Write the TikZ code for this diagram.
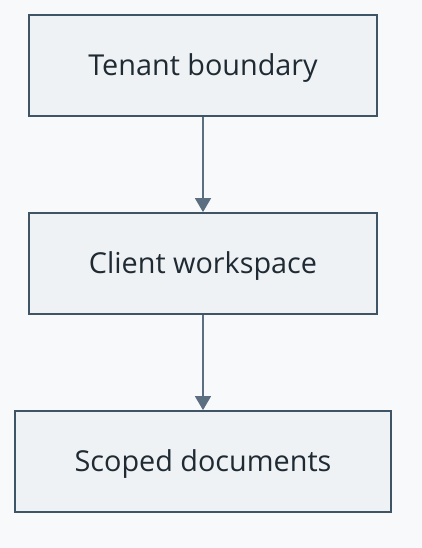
\documentclass[tikz,border=0pt]{standalone}
\usepackage{fontspec}
\setmainfont{Open Sans}
\usetikzlibrary{arrows.meta}
\definecolor{bg}{HTML}{F8F9FB}
\definecolor{boxfill}{HTML}{EEF2F5}
\definecolor{boxline}{HTML}{3F5566}
\definecolor{arrowc}{HTML}{5C6F80}
\definecolor{txt}{HTML}{1F2A33}
\begin{document}
\begin{tikzpicture}[x=1pt,y=-1pt,
  stepbox/.style={draw=boxline,fill=boxfill,line width=1.8pt,minimum height=101pt,inner sep=0pt,
    text height=22pt,text depth=2pt,
    text=txt,font=\fontsize{28.8}{34}\selectfont},
  conn/.style={draw=arrowc,line width=1.6pt,-{Triangle[width=16pt,length=14pt]}}]
\fill[bg] (0,0) rectangle (422,548);
\useasboundingbox (0,0) rectangle (422,548);
\node[stepbox,minimum width=348pt] (a) at (203,65.5) {Tenant boundary};
\node[stepbox,minimum width=348pt] (b) at (203,263.5) {Client workspace};
\node[stepbox,minimum width=376pt] (c) at (203,461.5) {Scoped documents};
\draw[conn] (a) -- (b);
\draw[conn] (b) -- (c);
\end{tikzpicture}
\end{document}
